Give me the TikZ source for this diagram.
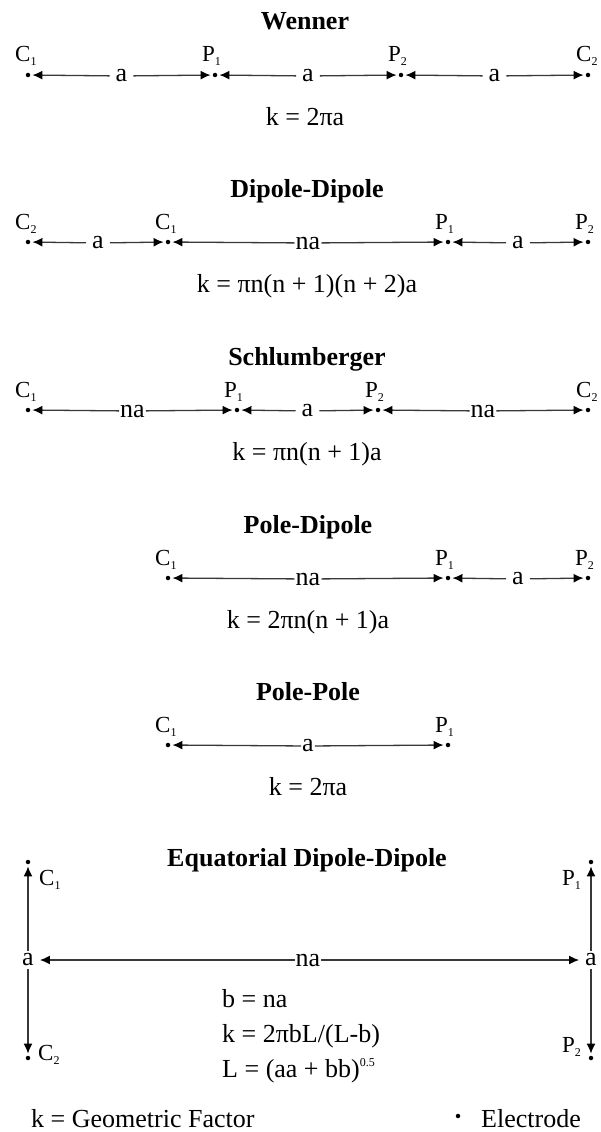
\documentclass[tikz,border=0pt]{standalone}
\usepackage{fontspec}
\setmainfont{Liberation Serif}
\usetikzlibrary{arrows.meta}
\newcommand\esub[1]{\raisebox{-4pt}{\fontsize{12}{12}\selectfont #1}}
\begin{document}
\begin{tikzpicture}[x=1pt,y=-1pt,
  every node/.style={font=\fontsize{26}{28}\selectfont, text=black},
  title/.style={font=\fontsize{26}{28}\selectfont\bfseries, anchor=base},
  formula/.style={anchor=base},
  elab/.style={font=\fontsize{23}{24}\selectfont, anchor=base west, inner sep=0pt},
  edot/.style={circle, fill=black, inner sep=0pt, minimum size=4.5pt},
  gaplab/.style={inner xsep=6pt, inner ysep=2pt},
  tightlab/.style={inner xsep=1pt, inner ysep=2pt},
  arr/.style={draw=black!78, line width=1.3pt, -{Latex[length=10pt,width=9pt,fill=black,color=black]}, shorten >=2pt},
]
\useasboundingbox (0,0) rectangle (600,1132);

% ---------- Wenner ----------
\node[title] (wt) at (305,30) {Wenner};
\node[edot] (w1) at (28,75) {};
\node[edot] (w2) at (215,75) {};
\node[edot] (w3) at (401,75) {};
\node[edot] (w4) at (588,75) {};
\node[elab] (w1l) at (15,62) {C\esub{1}};
\node[elab] (w2l) at (202,62) {P\esub{1}};
\node[elab] (w3l) at (388,62) {P\esub{2}};
\node[elab] (w4l) at (576,62) {C\esub{2}};
\node[gaplab] (wa1) at (121.5,76) {a};
\node[gaplab] (wa2) at (308,76) {a};
\node[gaplab] (wa3) at (494.5,76) {a};
\draw[arr] (wa1) -- (w1); \draw[arr] (wa1) -- (w2);
\draw[arr] (wa2) -- (w2); \draw[arr] (wa2) -- (w3);
\draw[arr] (wa3) -- (w3); \draw[arr] (wa3) -- (w4);
\node[formula] (wf) at (305,125) {k = 2πa};

% ---------- Dipole-Dipole ----------
\node[title] (dt) at (307,197) {Dipole-Dipole};
\node[edot] (d1) at (28,242) {};
\node[edot] (d2) at (168,242) {};
\node[edot] (d3) at (448,242) {};
\node[edot] (d4) at (588,242) {};
\node[elab] (d1l) at (15,229) {C\esub{2}};
\node[elab] (d2l) at (155,229) {C\esub{1}};
\node[elab] (d3l) at (435,229) {P\esub{1}};
\node[elab] (d4l) at (575,229) {P\esub{2}};
\node[gaplab] (da1) at (98,243) {a};
\node[tightlab] (da2) at (308,243) {na};
\node[gaplab] (da3) at (518,243) {a};
\draw[arr] (da1) -- (d1); \draw[arr] (da1) -- (d2);
\draw[arr] (da2) -- (d2); \draw[arr] (da2) -- (d3);
\draw[arr] (da3) -- (d3); \draw[arr] (da3) -- (d4);
\node[formula] (df) at (307,292) {k = πn(n + 1)(n + 2)a};

% ---------- Schlumberger ----------
\node[title] (st) at (307,365) {Schlumberger};
\node[edot] (s1) at (28,410) {};
\node[edot] (s2) at (237,410) {};
\node[edot] (s3) at (378,410) {};
\node[edot] (s4) at (588,410) {};
\node[elab] (s1l) at (15,397) {C\esub{1}};
\node[elab] (s2l) at (224,397) {P\esub{1}};
\node[elab] (s3l) at (365,397) {P\esub{2}};
\node[elab] (s4l) at (576,397) {C\esub{2}};
\node[tightlab] (sa1) at (132.5,411) {na};
\node[gaplab] (sa2) at (307.5,411) {a};
\node[tightlab] (sa3) at (483,411) {na};
\draw[arr] (sa1) -- (s1); \draw[arr] (sa1) -- (s2);
\draw[arr] (sa2) -- (s2); \draw[arr] (sa2) -- (s3);
\draw[arr] (sa3) -- (s3); \draw[arr] (sa3) -- (s4);
\node[formula] (sf) at (307,460) {k = πn(n + 1)a};

% ---------- Pole-Dipole ----------
\node[title] (pdt) at (308,533) {Pole-Dipole};
\node[edot] (p1) at (168,578) {};
\node[edot] (p2) at (448,578) {};
\node[edot] (p3) at (588,578) {};
\node[elab] (p1l) at (155,565) {C\esub{1}};
\node[elab] (p2l) at (435,565) {P\esub{1}};
\node[elab] (p3l) at (575,565) {P\esub{2}};
\node[tightlab] (pa1) at (308,579) {na};
\node[gaplab] (pa2) at (518,579) {a};
\draw[arr] (pa1) -- (p1); \draw[arr] (pa1) -- (p2);
\draw[arr] (pa2) -- (p2); \draw[arr] (pa2) -- (p3);
\node[formula] (pdf) at (308,628) {k = 2πn(n + 1)a};

% ---------- Pole-Pole ----------
\node[title] (ppt) at (308,700) {Pole-Pole};
\node[edot] (q1) at (168,745) {};
\node[edot] (q2) at (448,745) {};
\node[elab] (q1l) at (155,732) {C\esub{1}};
\node[elab] (q2l) at (435,732) {P\esub{1}};
\node[tightlab] (qa1) at (308,746) {a};
\draw[arr] (qa1) -- (q1); \draw[arr] (qa1) -- (q2);
\node[formula] (ppf) at (308,795) {k = 2πa};

% ---------- Equatorial Dipole-Dipole ----------
\node[title] (et) at (307,866) {Equatorial Dipole-Dipole};
\node[edot] (e1) at (28,862) {};
\node[edot] (e2) at (28,1058) {};
\node[edot] (e3) at (591,862) {};
\node[edot] (e4) at (591,1058) {};
\node[elab] (e1l) at (39,885) {C\esub{1}};
\node[elab] (e2l) at (38,1060) {C\esub{2}};
\node[elab] (e3l) at (562,885) {P\esub{1}};
\node[elab] (e4l) at (562,1052) {P\esub{2}};
\node[inner xsep=6pt, inner ysep=3pt] (ea1) at (28,960) {a};
\node[inner xsep=6pt, inner ysep=3pt] (ea2) at (591,960) {a};
\node[tightlab] (ena) at (308,960) {na};
\draw[arr] (ea1) -- (e1); \draw[arr] (ea1) -- (e2);
\draw[arr] (ea2) -- (e3); \draw[arr] (ea2) -- (e4);
\draw[arr, shorten >=0pt] (ena) -- (ea1); \draw[arr, shorten >=0pt] (ena) -- (ea2);
\node[anchor=base west, inner sep=0pt] (ef1) at (222,1007) {b = na};
\node[anchor=base west, inner sep=0pt] (ef2) at (222,1042) {k = 2πbL/(L-b)};
\node[anchor=base west, inner sep=0pt] (ef3) at (222,1077) {L = (aa + bb)\raisebox{11pt}{\fontsize{12}{12}\selectfont 0.5}};

% ---------- legend ----------
\node[anchor=base west, inner sep=0pt] (kg) at (31,1127) {k = Geometric Factor};
\node[edot] (ld) at (458,1116) {};
\node[anchor=base west, inner sep=0pt] (le) at (481,1127) {Electrode};
\end{tikzpicture}
\end{document}
